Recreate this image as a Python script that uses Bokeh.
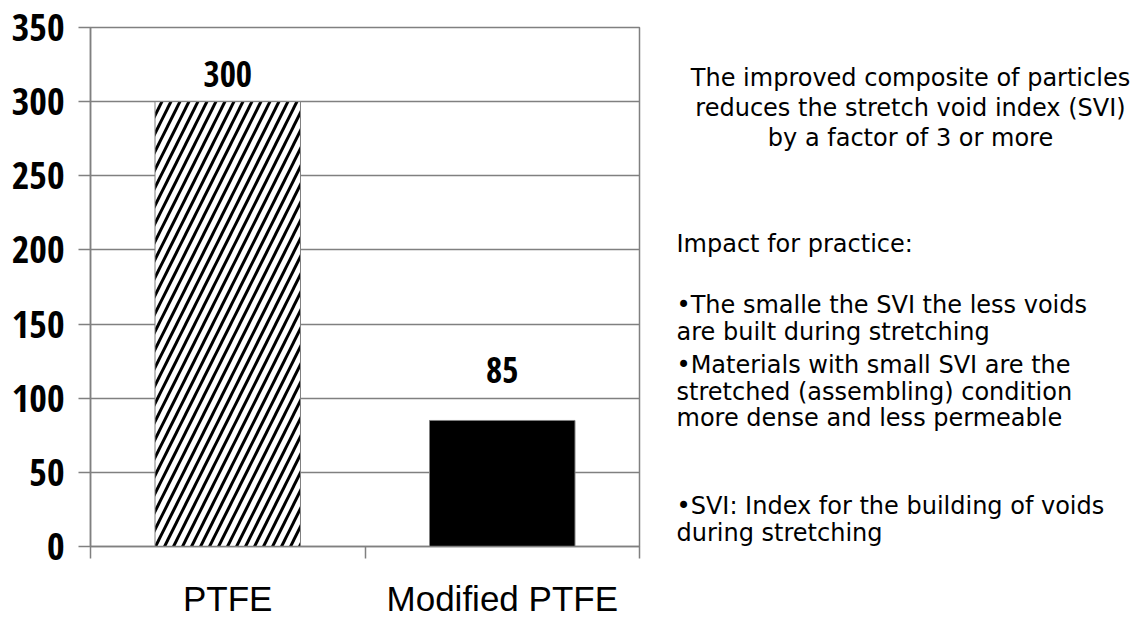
import numpy as np
from bokeh.plotting import figure
from bokeh.layouts import row
from bokeh.models import ColumnDataSource, Range1d, FixedTicker, Label
from bokeh.core.properties import value
from bokeh.embed import file_html
from bokeh.resources import INLINE

# ---- data ----
categories = ["PTFE", "Modified PTFE"]
svi_values = [300, 85]
value_labels = ["300", "85"]
y_ticks = [0, 50, 100, 150, 200, 250, 300, 350]

note_title = [
    "The improved composite of particles",
    "reduces the stretch void index (SVI)",
    "by a factor of 3 or more",
]
note_lines = [
    "Impact for practice:",
    "\u2022The smalle the SVI the less voids",
    "are built during stretching",
    "\u2022Materials with  small SVI  are  the",
    "stretched (assembling) condition",
    "more dense and less permeable",
    "\u2022SVI:  Index  for the building of voids",
    "during stretching",
]

# ---- styles ----
GRAY = "#808080"
NUM_FONT = ("'Noto Sans Condensed', 'Open Sans Condensed', 'Roboto Condensed', "
            "'Liberation Sans Narrow', 'DejaVu Sans Condensed', Roboto")
CAT_FONT = "Liberation Sans"
NOTE_FONT = "DejaVu Sans"
H = 620
TOP, BOTTOM = 27, 74          # frame borders shared by both figures

xs = np.arange(len(categories)) + 0.5
bounds = list(np.arange(len(categories) + 1).astype(float))

src = ColumnDataSource(dict(
    x=xs, top=svi_values, lab=value_labels,
    hatch=["/", " "], fill=["white", "black"],
    off=[-28, -50],
))

p = figure(width=648, height=H, output_backend="svg", toolbar_location=None,
           x_range=Range1d(0, len(categories)), y_range=Range1d(0, 350),
           min_border_left=90, min_border_top=TOP, min_border_right=9,
           min_border_bottom=BOTTOM)
p.background_fill_color = "white"
p.border_fill_color = "white"
p.outline_line_color = GRAY
p.outline_line_width = 1.5

p.vbar(x="x", top="top", width=0.53, bottom=0, source=src,
       fill_color="fill", line_color=GRAY, line_width=1,
       hatch_pattern="hatch", hatch_color="black", hatch_weight=3, hatch_scale=18)

p.text(x="x", y="top", text="lab", source=src, y_offset="off",
       text_font=value(NUM_FONT), text_font_style="bold", text_font_size="35px",
       text_align="center", text_baseline="alphabetic", text_color="black")

# y axis
p.yaxis.ticker = FixedTicker(ticks=y_ticks)
p.yaxis.axis_line_color = GRAY
p.yaxis.axis_line_width = 1.5
p.yaxis.major_tick_out = 12
p.yaxis.major_tick_in = 0
p.yaxis.major_tick_line_color = GRAY
p.yaxis.major_tick_line_width = 1.5
p.yaxis.minor_tick_line_color = None
p.yaxis.major_label_text_font = NUM_FONT
p.yaxis.major_label_text_font_style = "bold"
p.yaxis.major_label_text_font_size = "38px"
p.yaxis.major_label_text_color = "black"
p.yaxis.major_label_standoff = 14

# x axis
p.xaxis.ticker = FixedTicker(ticks=list(xs), minor_ticks=bounds)
p.xaxis.major_label_overrides = {float(x): c for x, c in zip(xs, categories)}
p.xaxis.axis_line_color = GRAY
p.xaxis.axis_line_width = 1.5
p.xaxis.major_tick_out = 0
p.xaxis.major_tick_in = 0
p.xaxis.minor_tick_out = 12
p.xaxis.minor_tick_in = 0
p.xaxis.minor_tick_line_color = GRAY
p.xaxis.minor_tick_line_width = 1.5
p.xaxis.major_label_text_font = CAT_FONT
p.xaxis.major_label_text_font_size = "35px"
p.xaxis.major_label_text_color = "black"
p.xaxis.major_label_standoff = 20

p.xgrid.grid_line_color = None
p.ygrid.ticker = FixedTicker(ticks=y_ticks)
p.ygrid.grid_line_color = GRAY
p.ygrid.grid_line_width = 1.5

# ---- notes panel (second figure; data units = page pixels) ----
NW = 1145 - 648
notes = figure(width=NW, height=H, output_backend="svg", toolbar_location=None,
               x_range=Range1d(0, NW), y_range=Range1d(BOTTOM, H - TOP),
               x_axis_location=None, y_axis_location=None,
               min_border_left=0, min_border_right=0,
               min_border_top=TOP, min_border_bottom=BOTTOM)
notes.grid.grid_line_color = None
notes.outline_line_color = None
notes.background_fill_color = "white"
notes.border_fill_color = "white"

# page baseline B -> data y = H - B ; page x X -> data x = X - 648
title_base = [77, 107, 137]
for t, b in zip(note_title, title_base):
    notes.add_layout(Label(x=910 - 648, y=H - b, text=t,
                           text_font=NOTE_FONT, text_font_size="24px", text_color="black",
                           text_align="center", text_baseline="alphabetic"))
line_base = [243, 304, 331, 364, 391, 417, 505, 532]
for t, b in zip(note_lines, line_base):
    notes.add_layout(Label(x=676 - 648, y=H - b, text=t,
                           text_font=NOTE_FONT, text_font_size="24px", text_color="black",
                           text_align="left", text_baseline="alphabetic"))

open("out.html", "w").write(file_html(row(p, notes), INLINE))
